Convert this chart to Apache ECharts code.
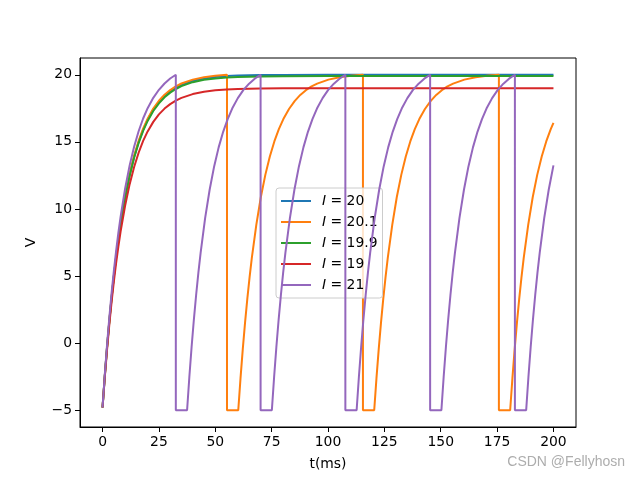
<!DOCTYPE html>
<html>
<head>
<meta charset="utf-8">
<script src="https://cdn.jsdelivr.net/npm/echarts@6/dist/echarts.min.js"></script>
<style>html,body{margin:0;padding:0;background:#fff}#c{width:640px;height:480px}</style>
</head>
<body>
<div id="c"></div>
<script>
const xTicks = [0, 25, 50, 75, 100, 125, 150, 175, 200];
const yTicks = [-5, 0, 5, 10, 15, 20];
const seriesNames = ['20', '20.1', '19.9', '19', '21'];

const i20 = [[0,-4.8],[1,-2.44],[2,-0.30],[3,1.63],[4,3.38],[5,4.96],[6,6.39],[7,7.68],[8,8.86],[10,10.88],[12,12.53],[14,13.88],[16,14.99],[18,15.90],[20,16.64],[22.5,17.39],[25,17.96],[27.5,18.42],[30,18.76],[32.5,19.04],[35,19.25],[40,19.55],[45,19.72],[50,19.83],[55,19.90],[60,19.94],[70,19.98],[80,19.99],[100,20],[150,20],[200,20]];

const i199 = [[0,-4.8],[1,-2.45],[2,-0.32],[3,1.60],[4,3.34],[5,4.92],[6,6.34],[7,7.63],[8,8.80],[10,10.81],[12,12.46],[14,13.81],[16,14.91],[18,15.82],[20,16.56],[22.5,17.30],[25,17.87],[27.5,18.32],[30,18.67],[32.5,18.94],[35,19.15],[40,19.45],[45,19.63],[50,19.73],[55,19.80],[60,19.84],[70,19.88],[80,19.89],[100,19.9],[150,19.9],[200,19.9]];

const i19 = [[0,-4.8],[1,-2.53],[2,-0.48],[3,1.37],[4,3.05],[5,4.57],[6,5.94],[7,7.18],[8,8.31],[10,10.24],[12,11.83],[14,13.13],[16,14.19],[18,15.07],[20,15.78],[22.5,16.49],[25,17.05],[27.5,17.48],[30,17.81],[32.5,18.08],[35,18.28],[40,18.56],[45,18.74],[50,18.84],[55,18.90],[60,18.94],[70,18.98],[80,18.99],[100,19],[150,19],[200,19]];

const i201 = [[0,-4.8],[1,-2.43],[2,-0.29],[3,1.65],[4,3.41],[5,5.00],[6,6.43],[7,7.73],[8,8.91],[10,10.94],[12,12.60],[14,13.96],[16,15.07],[18,15.98],[20,16.73],[22.5,17.48],[25,18.06],[27.5,18.51],[30,18.86],[32.5,19.13],[35,19.35],[40,19.64],[45,19.82],[50,19.93],[55.2,20],[55.2,-5],[60.2,-5],
[61.2,-2.61],[62.2,-0.45],[63.2,1.51],[64.2,3.28],[65.2,4.88],[66.2,6.33],[68.2,8.82],[70.2,10.87],[72.2,12.54],[74.2,13.91],[76.2,15.03],[78.2,15.95],[80.2,16.70],[82.7,17.45],[85.2,18.04],[87.7,18.50],[90.2,18.85],[92.7,19.13],[95.2,19.34],[100.2,19.64],[105.2,19.82],[110.2,19.93],[115.5,20],[115.5,-5],[120.5,-5],
[121.5,-2.61],[122.5,-0.45],[123.5,1.51],[124.5,3.28],[125.5,4.88],[126.5,6.33],[128.5,8.82],[130.5,10.87],[132.5,12.54],[134.5,13.91],[136.5,15.03],[138.5,15.95],[140.5,16.70],[143,17.45],[145.5,18.04],[148,18.50],[150.5,18.85],[153,19.13],[155.5,19.34],[160.5,19.64],[165.5,19.82],[170.5,19.93],[175.8,20],[175.8,-5],[180.8,-5],
[181.8,-2.61],[182.8,-0.45],[183.8,1.51],[184.8,3.28],[185.8,4.88],[186.8,6.33],[188.8,8.82],[190.8,10.87],[192.8,12.54],[194.8,13.91],[196.8,15.03],[198.8,15.95],[200,16.42]];

const i21 = [[0,-4.8],[1,-2.34],[2,-0.12],[3,1.89],[4,3.71],[5,5.35],[6,6.84],[7,8.19],[8,9.41],[10,11.51],[12,13.23],[14,14.64],[16,15.79],[18,16.74],[20,17.51],[22.5,18.28],[25,18.88],[27.5,19.35],[30,19.72],[32.5,20],[32.5,-5],[37.5,-5],
[38.5,-2.52],[39.5,-0.29],[40.5,1.74],[41.5,3.57],[42.5,5.23],[43.5,6.73],[45.5,9.32],[47.5,11.43],[49.5,13.17],[51.5,14.59],[53.5,15.75],[55.5,16.70],[57.5,17.48],[60,18.26],[62.5,18.87],[65,19.34],[67.5,19.71],[70.1,20],[70.1,-5],[75.1,-5],
[76.1,-2.52],[77.1,-0.29],[78.1,1.74],[79.1,3.57],[80.1,5.23],[81.1,6.73],[83.1,9.32],[85.1,11.43],[87.1,13.17],[89.1,14.59],[91.1,15.75],[93.1,16.70],[95.1,17.48],[97.6,18.26],[100.1,18.87],[102.6,19.34],[105.1,19.71],[107.7,20],[107.7,-5],[112.7,-5],
[113.7,-2.52],[114.7,-0.29],[115.7,1.74],[116.7,3.57],[117.7,5.23],[118.7,6.73],[120.7,9.32],[122.7,11.43],[124.7,13.17],[126.7,14.59],[128.7,15.75],[130.7,16.70],[132.7,17.48],[135.2,18.26],[137.7,18.87],[140.2,19.34],[142.7,19.71],[145.3,20],[145.3,-5],[150.3,-5],
[151.3,-2.52],[152.3,-0.29],[153.3,1.74],[154.3,3.57],[155.3,5.23],[156.3,6.73],[158.3,9.32],[160.3,11.43],[162.3,13.17],[164.3,14.59],[166.3,15.75],[168.3,16.70],[170.3,17.48],[172.8,18.26],[175.3,18.87],[177.8,19.34],[180.3,19.71],[182.9,20],[182.9,-5],[187.9,-5],
[188.9,-2.52],[189.9,-0.29],[190.9,1.74],[191.9,3.57],[192.9,5.23],[193.9,6.73],[195.9,9.32],[197.9,11.43],[200,13.25]];

const seriesData = [i20, i201, i199, i19, i21];
const colors = ['#1f77b4', '#ff7f0e', '#2ca02c', '#d62728', '#9467bd'];

const FONT = 'DejaVu Sans';
const fmt = v => (v < 0 ? '\u2212' + Math.abs(v) : String(v));

const chart = echarts.init(document.getElementById('c'), null, {renderer: 'canvas'});
chart.setOption({
  animation: false,
  backgroundColor: '#fff',
  textStyle: {fontFamily: FONT},
  grid: {left: 80, right: 64, top: 58, bottom: 53, show: true, borderColor: '#000', borderWidth: 1, containLabel: false},
  xAxis: {
    type: 'value', min: -10, max: 210,
    name: 't(ms)', nameLocation: 'middle', nameGap: 30,
    nameTextStyle: {fontFamily: FONT, fontSize: 13.9, color: '#000'},
    axisLine: {show: true, onZero: false, lineStyle: {color: '#000', width: 1}},
    axisTick: {show: true, inside: false, customValues: xTicks, length: 5, lineStyle: {color: '#000', width: 1}},
    axisLabel: {customValues: xTicks, formatter: fmt, margin: 8, fontFamily: FONT, fontSize: 13.9, color: '#000'},
    splitLine: {show: false}
  },
  yAxis: {
    type: 'value', min: -6.25, max: 21.25,
    name: 'V', nameLocation: 'middle', nameGap: 42, nameRotate: 90,
    nameTextStyle: {fontFamily: FONT, fontSize: 13.9, color: '#000'},
    axisLine: {show: true, onZero: false, lineStyle: {color: '#000', width: 1}},
    axisTick: {show: true, inside: false, customValues: yTicks, length: 5, lineStyle: {color: '#000', width: 1}},
    axisLabel: {customValues: yTicks, formatter: fmt, margin: 8, fontFamily: FONT, fontSize: 13.9, color: '#000'},
    splitLine: {show: false}
  },
  legend: {
    orient: 'vertical', left: 276, top: 188,
    padding: [6, 5, 6, 5],
    itemGap: 7, itemWidth: 30, itemHeight: 2, icon: 'rect',
    backgroundColor: 'rgba(255,255,255,0.8)', borderColor: '#cccccc', borderWidth: 1, borderRadius: 3,
    data: seriesNames.map(n => 'I=' + n),
    formatter: name => '{i|I} = ' + name.slice(2),
    textStyle: {
      fontFamily: FONT, fontSize: 13.9, color: '#000', padding: [0, 0, 0, 6],
      rich: {i: {fontFamily: FONT, fontStyle: 'italic', fontSize: 13.9, color: '#000'}}
    }
  },
  graphic: [{
    type: 'text', right: 15, top: 455,
    style: {text: 'CSDN @Fellyhosn', font: '14px "Liberation Sans", Arial, sans-serif', fill: '#adadad'}
  }],
  series: seriesNames.map((n, k) => ({
    name: 'I=' + n, type: 'line', data: seriesData[k], showSymbol: false, symbol: 'none',
    lineStyle: {width: 2, color: colors[k]}, itemStyle: {color: colors[k]}, color: colors[k],
    clip: true, z: 2 + k
  }))
});
</script>
</body>
</html>
